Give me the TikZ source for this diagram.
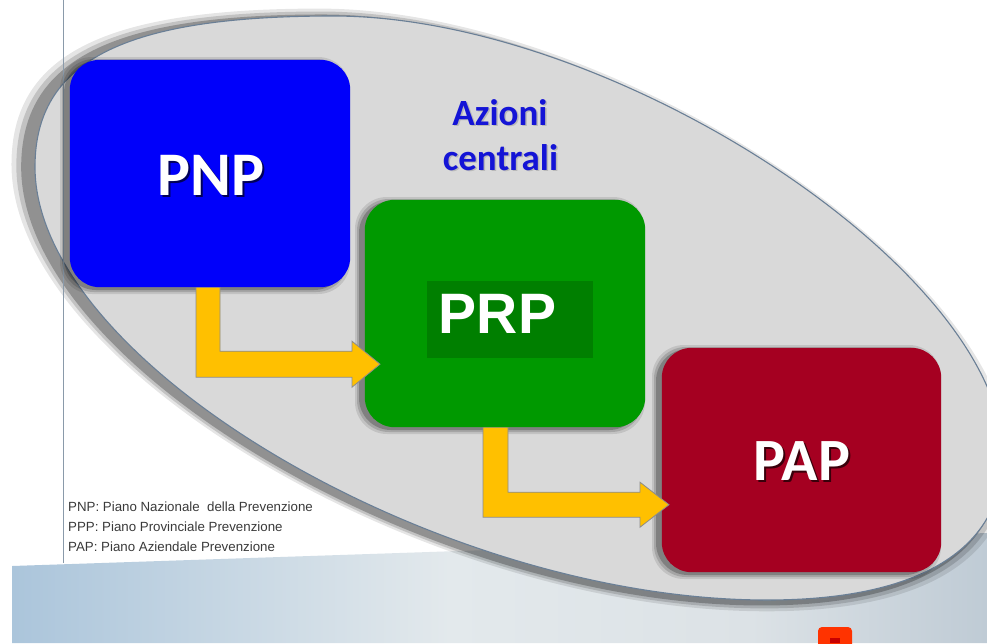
\documentclass[tikz,border=0pt]{standalone}
\usepackage{fontspec}
\setmainfont{Liberation Sans}
\newfontfamily\calfont{Carlito}
\usetikzlibrary{calc}
\definecolor{pnpblue}{HTML}{0000FA}
\definecolor{prpgreen}{HTML}{009900}
\definecolor{prpinner}{HTML}{007F00}
\definecolor{papred}{HTML}{A50021}
\definecolor{arrowyellow}{HTML}{FFC000}
\definecolor{arrowedge}{HTML}{8C8C8C}
\definecolor{blobfill}{HTML}{D9D9D9}
\definecolor{blobedge}{HTML}{6A7F96}
\definecolor{aztext}{HTML}{1414D6}
\definecolor{legtext}{HTML}{3A3A3A}
\definecolor{vline}{HTML}{8A9AAA}
\definecolor{bandA}{HTML}{ABC5DB}
\definecolor{bandB}{HTML}{E3E9EC}
\definecolor{bandC}{HTML}{DCE2E6}
\definecolor{bandD}{HTML}{BFCBD5}
\definecolor{redsq}{HTML}{FF3300}
\definecolor{redsqin}{HTML}{C80000}
\tikzset{
  box/.style={rectangle, inner sep=0pt, minimum width=280pt, minimum height=227pt},
  boxfill/.style={rounded corners=30pt},
  arrowshape/.style={fill=arrowyellow, draw=arrowedge, line width=0.8pt, line join=miter},
  bigtext/.style={inner sep=0pt, text=white, font=\calfont\bfseries\fontsize{62}{62}\selectfont},
  bigshadow/.style={inner sep=0pt, text=black, opacity=0.65, font=\calfont\bfseries\fontsize{62}{62}\selectfont},
  aztextstyle/.style={inner sep=0pt, anchor=base, text=aztext, font=\calfont\bfseries\fontsize{37}{37}\selectfont},
  legend/.style={inner sep=0pt, anchor=base west, text=legtext, font=\fontsize{13.3}{13.3}\selectfont}
}
\begin{document}
\begin{tikzpicture}[x=1pt,y=-1pt]
\useasboundingbox (0,0) rectangle (987,643);
\fill[white] (0,0) rectangle (987,643);
% node frames (filled later, for layering)
\node[box] (pnp) at (210,173.5) {};
\node[box] (prp) at (505,313.5) {};
\node[box, minimum width=279pt, minimum height=224pt] (pap) at (801.5,460) {};
% bottom band
\shade[left color=bandA, right color=bandB] (12,566) -- (450,551.3) -- (450,643) -- (12,643) -- cycle;
\shade[left color=bandB, right color=bandC] (450,551.3) -- (750,541.3) -- (750,643) -- (450,643) -- cycle;
\shade[left color=bandC, right color=bandD] (750,541.3) -- (987,533) -- (987,643) -- (750,643) -- cycle;
% blob shadow
\foreach \s/\o in {1.032/0.1,1.022/0.15,1.012/0.25}{
  \fill[black, opacity=\o, shift={(-8,2)}, scale around={\s:(520,310)}]
    (35,167) .. controls (35,61) and (124,16) .. (333,16)
    .. controls (615,16) and (1003,272) .. (1003,455)
    .. controls (1003,549) and (920,600) .. (767,600)
    .. controls (438,600) and (35,362) .. (35,167) -- cycle;
}
% blob
\filldraw[fill=blobfill, draw=blobedge, line width=1.1pt]
    (35,167) .. controls (35,61) and (124,16) .. (333,16)
    .. controls (615,16) and (1003,272) .. (1003,455)
    .. controls (1003,549) and (920,600) .. (767,600)
    .. controls (438,600) and (35,362) .. (35,167) -- cycle;
% vertical rule
\draw[vline, line width=0.9pt] (63,0) -- (63,563);
% legend
\node[legend] (leg1) at (68,511) {PNP: Piano Nazionale\ \ della Prevenzione};
\node[legend] (leg2) at (68,531) {PPP: Piano Provinciale Prevenzione};
\node[legend] (leg3) at (68,551) {PAP: Piano Aziendale Prevenzione};
% box shadows
\foreach \xa/\ya/\xb/\yb in {70/60/350/287, 365/200/645/427, 662/348/941/572}{
  \foreach \e/\o in {5/0.1, 3/0.15, 1/0.22}{
    \fill[black, opacity=\o, rounded corners=32pt] (\xa-5-\e, \ya+2-\e) rectangle (\xb-5+\e, \yb+2+\e);
  }
}
% boxes and arrows
\fill[papred, boxfill] (pap.south west) rectangle (pap.north east);
\draw[arrowshape] ($(prp.south)+(-22,0)$) -- ++(0,90) -- ++(157,0) -- ++(0,10) -- ++(29,-22.5) -- ++(-29,-22.5) -- ++(0,10) -- ++(-132,0) -- ++(0,-65) -- cycle;
\fill[prpgreen, boxfill] (prp.south west) rectangle (prp.north east);
\fill[prpinner] (427,281) rectangle (593,358);
\draw[arrowshape] ($(pnp.south)+(-14,0)$) -- ++(0,90) -- ++(156,0) -- ++(0,10) -- ++(28,-23) -- ++(-28,-23) -- ++(0,10) -- ++(-132,0) -- ++(0,-64) -- cycle;
\fill[pnpblue, boxfill] (pnp.south west) rectangle (pnp.north east);
% box texts
\node[bigshadow] at (213,177) {PNP};
\node[bigtext] (pnpt) at (211,175) {PNP};
\node[inner sep=0pt, text=white, font=\bfseries\fontsize{57}{57}\selectfont] (prpt) at (497.5,313.5) {PRP};
\node[bigshadow, font=\calfont\bfseries\fontsize{60}{60}\selectfont] at (804,463) {PAP};
\node[bigtext, font=\calfont\bfseries\fontsize{60}{60}\selectfont] (papt) at (802,461) {PAP};
% heading
\node[aztextstyle, text=black, opacity=0.15] at (501.5,126.5) {Azioni};
\node[aztextstyle, text=black, opacity=0.15] at (502,171.5) {centrali};
\node[aztextstyle] (az1) at (500,125) {Azioni};
\node[aztextstyle] (az2) at (500.5,170) {centrali};
% small red square
\fill[redsq, rounded corners=4pt] (818,627) rectangle (852,650);
\fill[redsqin] (830,638) rectangle (840,643);
\end{tikzpicture}
\end{document}
